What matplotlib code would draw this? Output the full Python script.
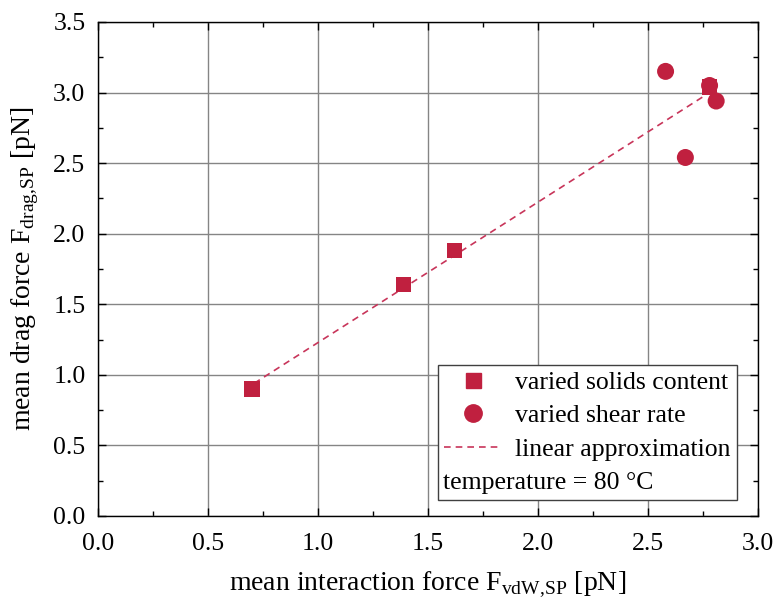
import matplotlib
matplotlib.use('Agg')
import matplotlib.pyplot as plt
from matplotlib.lines import Line2D
from matplotlib.ticker import MultipleLocator

plt.rcParams['font.family'] = ['Liberation Serif', 'DejaVu Serif']
plt.rcParams['mathtext.fontset'] = 'custom'
plt.rcParams['mathtext.rm'] = 'Liberation Serif'

# varied solids content (squares)
solids_x = [0.70, 1.39, 1.62, 2.78]
solids_y = [0.90, 1.64, 1.88, 3.04]
# varied shear rate (circles)
shear_x = [2.58, 2.67, 2.78, 2.81]
shear_y = [3.15, 2.54, 3.05, 2.94]
# linear approximation endpoints
fit_x = [0.71, 2.78]
fit_y = [0.94, 3.00]

red = '#C0203F'
dash_red = '#C8355A'
fs = 18.5

fig = plt.figure(figsize=(7.77, 6.04), dpi=100)
ax = fig.add_axes([0.1261, 0.1457, 0.8494, 0.8179])

ax.plot(fit_x, fit_y, ls=(0, (4, 3)), color=dash_red, lw=1.2, zorder=2)
ax.scatter(shear_x, shear_y, marker='o', s=150, color=red, edgecolors='none', zorder=3)
ax.scatter(solids_x, solids_y, marker='s', s=120, color=red, edgecolors='none', zorder=4)

ax.set_xlim(0, 3.0)
ax.set_ylim(0, 3.5)
ax.xaxis.set_major_locator(MultipleLocator(0.5))
ax.yaxis.set_major_locator(MultipleLocator(0.5))
ax.xaxis.set_minor_locator(MultipleLocator(0.25))
ax.yaxis.set_minor_locator(MultipleLocator(0.25))
ax.xaxis.set_major_formatter(plt.FormatStrFormatter('%.1f'))
ax.yaxis.set_major_formatter(plt.FormatStrFormatter('%.1f'))
ax.grid(True, which='major', color='#858585', lw=1.0)
ax.set_axisbelow(True)
ax.tick_params(which='both', direction='in', top=True, right=True, labelsize=fs, width=1.0)
ax.tick_params(which='major', length=6)
ax.tick_params(axis='x', which='major', pad=12)
ax.tick_params(axis='y', which='major', pad=9)
ax.tick_params(which='minor', length=3.5)
for sp in ax.spines.values():
    sp.set_linewidth(1.0)

ax.set_xlabel(r'mean interaction force F$_{\mathrm{vdW,\!SP}}$ [pN]', fontsize=20, labelpad=11)
ax.set_ylabel(r'mean drag force F$_{\mathrm{drag,\!SP}}$ [pN]', fontsize=20, labelpad=9)

handles = [
    Line2D([], [], marker='s', ls='none', color=red, markersize=10.8),
    Line2D([], [], marker='o', ls='none', color=red, markersize=12.5),
    Line2D([], [], ls=(0, (4, 3)), color=dash_red, lw=1.2),
    Line2D([], [], ls='none'),
]
labels = ['varied solids content', 'varied shear rate', 'linear approximation', ' ']
leg = ax.legend(handles, labels, loc='lower right', bbox_to_anchor=(0.968, 0.032),
                fontsize=fs, frameon=True, fancybox=False, framealpha=1,
                edgecolor='#404040', handlelength=2.25, handletextpad=0.5,
                borderpad=0.25, labelspacing=0.4, borderaxespad=0)
leg.get_frame().set_linewidth(1.0)

# temperature note sits in the legend's last row, left aligned
fig.canvas.draw()
r = fig.canvas.get_renderer()
frame_bb = leg.get_frame().get_window_extent(r)
row_bb = leg.get_texts()[3].get_window_extent(r)
x0, y0 = fig.transFigure.inverted().transform((frame_bb.x0 + 5, (row_bb.y0 + row_bb.y1) / 2))
fig.text(x0, y0, 'temperature = 80 °C', fontsize=fs, ha='left', va='center', zorder=10)

fig.savefig('out.png', dpi=100)
